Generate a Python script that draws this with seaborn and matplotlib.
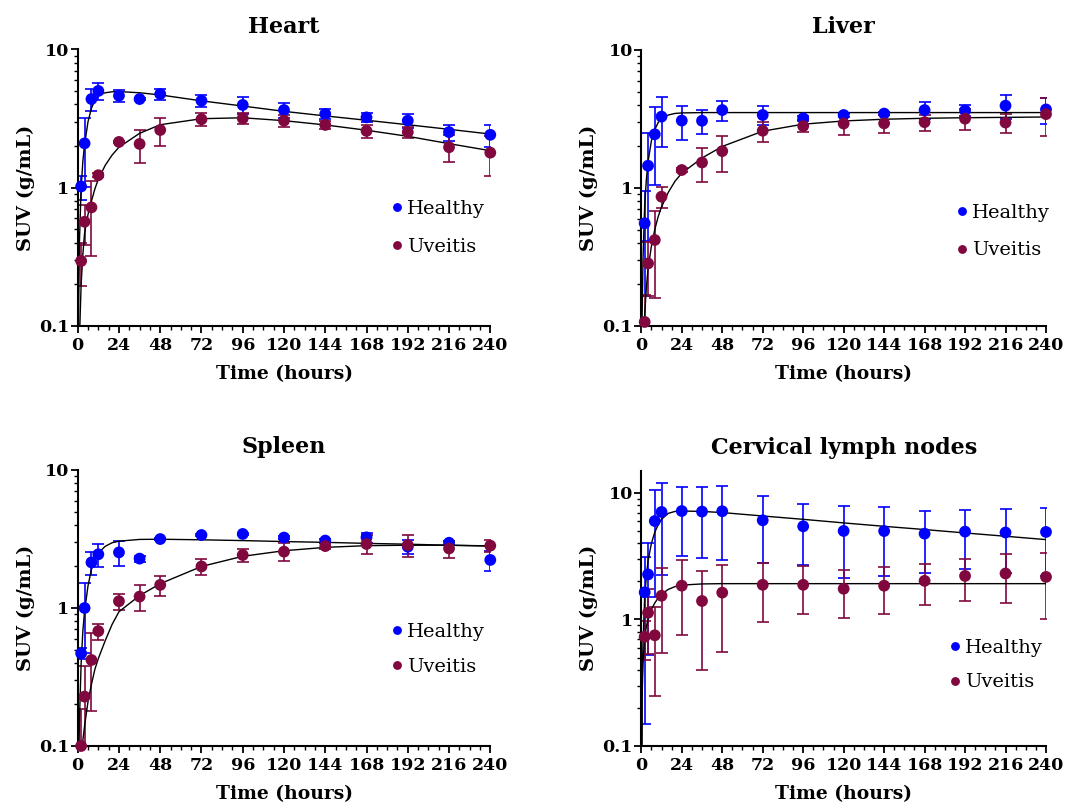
import matplotlib
matplotlib.use("Agg")
import matplotlib.pyplot as plt
import matplotlib.ticker as mticker
import numpy as np
import pandas as pd
import seaborn as sns

# sampling times (hours)
hours = [2, 4, 8, 12, 24, 36, 48, 72, 96, 120, 144, 168, 192, 216, 240]

# mean SUV and SD per organ
heart_healthy = [1.02, 2.09, 4.37, 5.0, 4.62, 4.37, 4.75, 4.25, 3.96, 3.64, 3.41, 3.22, 3.05, 2.52, 2.41]
heart_healthy_sd = [0.2, 1.08, 0.8, 0.7, 0.45, 0.1, 0.45, 0.45, 0.55, 0.45, 0.3, 0.25, 0.35, 0.33, 0.43]
heart_uveitis = [0.295, 0.567, 0.72, 1.23, 2.14, 2.07, 2.61, 3.12, 3.17, 3.05, 2.84, 2.57, 2.52, 1.96, 1.79]
heart_uveitis_sd = [0.1, 0.18, 0.4, 0.04, 0.05, 0.56, 0.6, 0.32, 0.28, 0.3, 0.2, 0.28, 0.22, 0.43, 0.57]

liver_healthy = [0.555, 1.45, 2.45, 3.29, 3.08, 3.07, 3.67, 3.38, 3.2, 3.38, 3.46, 3.67, 3.64, 3.95, 3.71]
liver_healthy_sd = [0.39, 1.04, 1.4, 1.3, 0.84, 0.62, 0.6, 0.52, 0.15, 0.1, 0.1, 0.5, 0.33, 0.8, 0.8]
liver_uveitis = [0.107, 0.284, 0.42, 0.865, 1.35, 1.53, 1.85, 2.6, 2.81, 2.93, 2.94, 3.0, 3.18, 2.98, 3.43]
liver_uveitis_sd = [0.06, 0.12, 0.26, 0.15, 0.05, 0.42, 0.54, 0.43, 0.28, 0.5, 0.42, 0.4, 0.55, 0.47, 1.05]

spleen_healthy = [0.469, 1.0, 2.14, 2.45, 2.53, 2.28, 3.16, 3.38, 3.44, 3.24, 3.08, 3.25, 2.78, 2.97, 2.23]
spleen_healthy_sd = [0.045, 0.53, 0.42, 0.48, 0.52, 0.12, 0.05, 0.05, 0.08, 0.08, 0.1, 0.27, 0.33, 0.1, 0.38]
spleen_uveitis = [0.1, 0.228, 0.42, 0.68, 1.12, 1.21, 1.47, 2.0, 2.42, 2.56, 2.81, 2.91, 2.86, 2.7, 2.83]
spleen_uveitis_sd = [0.085, 0.15, 0.24, 0.09, 0.15, 0.26, 0.24, 0.26, 0.27, 0.38, 0.15, 0.45, 0.53, 0.38, 0.27]

lymph_healthy = [1.64, 2.27, 6.0, 7.08, 7.2, 7.13, 7.17, 6.08, 5.45, 5.01, 5.0, 4.77, 4.95, 4.87, 4.92]
lymph_healthy_sd = [1.49, 1.75, 4.5, 4.85, 4.0, 4.05, 4.2, 3.3, 2.75, 2.9, 2.8, 2.45, 2.45, 2.55, 2.7]
lymph_uveitis = [0.73, 1.13, 0.75, 1.54, 1.85, 1.4, 1.63, 1.88, 1.88, 1.75, 1.85, 2.02, 2.21, 2.31, 2.17]
lymph_uveitis_sd = [0.25, 0.6, 0.5, 1.0, 1.1, 1.0, 1.08, 0.92, 0.78, 0.73, 0.75, 0.72, 0.8, 0.97, 1.17]

# fitted curves
fit_hours = [0, 0.5, 1, 2, 3, 4, 6, 8, 10, 12, 16, 20, 24, 36, 48, 72, 96, 120, 144, 168, 192, 216, 240]
heart_fit_healthy = [0.01, 0.12, 0.4, 1.0, 1.55, 2.05, 3.0, 3.75, 4.3, 4.65, 4.85, 4.93, 4.95, 4.85, 4.68,
                     4.24, 3.89, 3.56, 3.30, 3.07, 2.85, 2.64, 2.44]
heart_fit_uveitis = [0.01, 0.04, 0.08, 0.2, 0.33, 0.47, 0.64, 0.8, 0.98, 1.15, 1.45, 1.72, 1.96, 2.47, 2.85,
                     3.15, 3.2, 3.05, 2.84, 2.6, 2.35, 2.08, 1.85]
liver_fit_healthy = [0.01, 0.12, 0.3, 0.75, 1.15, 1.55, 2.2, 2.65, 2.98, 3.18, 3.38, 3.47, 3.5, 3.52, 3.52,
                     3.52, 3.52, 3.52, 3.52, 3.52, 3.52, 3.52, 3.52]
liver_fit_uveitis = [0.01, 0.03, 0.06, 0.12, 0.19, 0.26, 0.38, 0.5, 0.62, 0.73, 0.93, 1.12, 1.28, 1.65, 2.0,
                     2.58, 2.9, 3.06, 3.15, 3.2, 3.23, 3.25, 3.27]
spleen_fit_healthy = [0.01, 0.06, 0.15, 0.4, 0.68, 0.95, 1.45, 1.9, 2.25, 2.5, 2.8, 2.97, 3.05, 3.14, 3.15,
                      3.12, 3.08, 3.03, 2.99, 2.94, 2.9, 2.85, 2.81]
spleen_fit_uveitis = [0.01, 0.02, 0.04, 0.08, 0.11, 0.14, 0.21, 0.28, 0.36, 0.43, 0.58, 0.76, 0.94, 1.23, 1.5,
                      2.0, 2.37, 2.6, 2.75, 2.83, 2.85, 2.85, 2.82]
lymph_fit_healthy = [0.01, 0.3, 0.65, 1.5, 2.2, 2.9, 4.0, 4.9, 5.6, 6.2, 6.9, 7.15, 7.2, 7.15, 7.0,
                     6.58, 6.19, 5.8, 5.45, 5.14, 4.83, 4.55, 4.28]
lymph_fit_uveitis = [0.01, 0.25, 0.45, 0.72, 0.88, 1.0, 1.2, 1.35, 1.48, 1.58, 1.73, 1.82, 1.87, 1.91, 1.92,
                     1.92, 1.92, 1.92, 1.92, 1.92, 1.92, 1.92, 1.92]

PALETTE = {"Healthy": "#0000ff", "Uveitis": "#80083f"}

sns.set_style("ticks")
plt.rcParams['font.family'] = ['DejaVu Serif']
plt.rcParams['font.weight'] = 'bold'
plt.rcParams['axes.labelweight'] = 'bold'
plt.rcParams['text.color'] = 'black'
plt.rcParams['axes.labelcolor'] = 'black'
plt.rcParams['xtick.color'] = 'black'
plt.rcParams['ytick.color'] = 'black'


def draw_panel(ax, title, healthy, healthy_sd, uveitis, uveitis_sd, fit_h, fit_u,
               ytop, legend_xy, legend_spacing):
    """ Draws one organ panel: mean +- SD points and fitted curves on a log axis """
    for vals, sd, group in [(healthy, healthy_sd, "Healthy"), (uveitis, uveitis_sd, "Uveitis")]:
        ax.errorbar(hours, vals, yerr=sd, fmt='none', ecolor=PALETTE[group],
                    elinewidth=1.2, capsize=4.5, capthick=1.2, zorder=2)

    sns.lineplot(x=fit_hours, y=fit_h, color='black', lw=1, ax=ax, zorder=3)
    sns.lineplot(x=fit_hours, y=fit_u, color='black', lw=1, ax=ax, zorder=3)

    df = pd.DataFrame({
        'time': hours + hours,
        'suv': healthy + uveitis,
        'group': ["Healthy"] * len(hours) + ["Uveitis"] * len(hours),
    })
    sns.scatterplot(data=df, x='time', y='suv', hue='group', palette=PALETTE, s=72,
                    edgecolor='none', linewidth=0, ax=ax, zorder=4, clip_on=False)

    ax.set_yscale('log')
    ax.set_xlim(0, 240)
    ax.set_ylim(0.1, ytop)
    ax.set_yticks([0.1, 1, 10])
    ax.set_yticklabels(['0.1', '1', '10'])
    ax.yaxis.set_minor_locator(mticker.LogLocator(base=10, subs=np.arange(2, 10) * 1.0, numticks=20))
    ax.yaxis.set_minor_formatter(mticker.NullFormatter())
    ax.set_xticks(range(0, 241, 24))
    ax.xaxis.set_minor_locator(mticker.MultipleLocator(6))

    ax.tick_params(axis='both', which='major', length=5, width=1.3, labelsize=12.5)
    ax.tick_params(axis='both', which='minor', length=3, width=1.0)
    ax.tick_params(axis='y', which='major', pad=1)
    ax.tick_params(axis='x', which='major', pad=3)
    ax.spines[['top', 'right']].set_visible(False)
    for side in ['left', 'bottom']:
        ax.spines[side].set_linewidth(1.5)
        ax.spines[side].set_color('black')

    ax.set_title(title, fontsize=16, fontweight='bold', pad=12)
    ax.set_xlabel("Time (hours)", fontsize=13.5, labelpad=8)
    ax.set_ylabel("SUV (g/mL)", fontsize=14, labelpad=3)

    sns.move_legend(ax, 'center left', bbox_to_anchor=legend_xy, frameon=False, title=None,
                    handletextpad=0.15, labelspacing=legend_spacing, borderpad=0, borderaxespad=0,
                    handlelength=0.7, markerscale=0.75, prop={'weight': 'normal', 'size': 14})


fig = plt.figure(figsize=(10.74, 8.1), dpi=100)
W, H = 1074, 810


def rect(x0, x1, ytop_px, ybot_px):
    return [x0 / W, 1 - ybot_px / H, (x1 - x0) / W, (ybot_px - ytop_px) / H]


ax_heart = fig.add_axes(rect(77.7, 490.3, 49.3, 326))
ax_liver = fig.add_axes(rect(641.3, 1046, 50, 326))
ax_spleen = fig.add_axes(rect(77.7, 490.3, 470, 746))
ax_lymph = fig.add_axes(rect(641.3, 1046, 470.7, 746))

draw_panel(ax_heart, "Heart", heart_healthy, heart_healthy_sd, heart_uveitis, heart_uveitis_sd,
           heart_fit_healthy, heart_fit_uveitis, 10, (0.757, 0.354), 1.05)
draw_panel(ax_liver, "Liver", liver_healthy, liver_healthy_sd, liver_uveitis, liver_uveitis_sd,
           liver_fit_healthy, liver_fit_uveitis, 10, (0.776, 0.342), 1.0)
draw_panel(ax_spleen, "Spleen", spleen_healthy, spleen_healthy_sd, spleen_uveitis, spleen_uveitis_sd,
           spleen_fit_healthy, spleen_fit_uveitis, 10, (0.757, 0.35), 0.9)
draw_panel(ax_lymph, "Cervical lymph nodes", lymph_healthy, lymph_healthy_sd, lymph_uveitis,
           lymph_uveitis_sd, lymph_fit_healthy, lymph_fit_uveitis, 15, (0.759, 0.294), 0.85)

fig.savefig("out.png", dpi=100)
